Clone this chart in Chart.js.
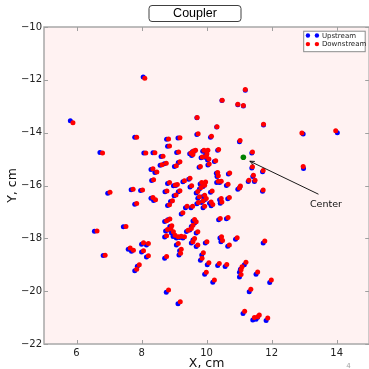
<!DOCTYPE html>
<html><head><meta charset="utf-8">
<script src="https://cdn.jsdelivr.net/npm/chart.js@4/dist/chart.umd.min.js"></script>
<style>html,body{margin:0;padding:0;overflow:hidden;background:#fff;width:369px;height:369px}canvas{display:block}</style>
</head><body>
<canvas id="c" width="372" height="369" style="width:372px;height:369px"></canvas>
<script>
const seriesLabels = ['Upstream', 'Downstream'];
const chartTitle = 'Coupler';
const xTitle = 'X, cm';
const yTitle = 'Y, cm';
const xTicks = [6, 8, 10, 12, 14];
const yTicks = [-22, -20, -18, -16, -14, -12, -10];

const upstreamX = [
5.81,8.05,6.72,6.96,6.55,6.82,7.44,7.59,7.69,7.79,
7.68,7.97,7.79,8.00,8.15,8.00,8.15,7.87,7.79,8.07,
8.35,8.60,8.29,8.41,8.57,8.70,8.31,8.29,8.37,8.76,
9.12,8.77,9.12,9.70,8.80,9.08,9.48,9.56,9.62,9.54,
9.13,9.01,9.77,9.45,9.27,8.80,8.98,9.05,8.72,9.13,
9.49,9.00,9.68,8.89,8.80,9.35,9.52,9.70,9.22,8.71,
8.81,8.87,8.84,8.74,8.92,8.71,8.97,9.07,9.17,9.27,
9.48,9.38,9.53,9.63,9.58,9.58,9.53,9.68,9.07,9.17,
9.15,8.71,9.70,11.19,10.47,10.96,11.13,10.31,11.75,12.97,
14.02,10.12,11.01,10.34,11.39,9.88,10.00,9.97,9.83,9.95,
10.03,10.24,10.04,12.98,11.39,10.30,10.32,10.67,11.72,11.42,
11.28,11.47,9.80,9.92,9.89,9.78,10.31,10.40,10.61,10.96,
11.02,11.72,10.12,9.89,9.94,9.84,10.09,10.14,10.40,10.42,
10.65,9.73,9.89,10.37,10.61,9.68,9.96,10.41,10.44,10.65,
10.89,11.74,9.85,9.81,10.02,10.34,10.57,11.16,11.04,11.01,
11.01,11.52,9.94,10.19,11.94,11.31,11.12,11.42,11.52,11.57,11.83];
const upstreamY = [
-13.55,-11.89,-14.75,-16.29,-17.73,-18.65,-17.56,-18.41,-18.49,-14.17,
-16.16,-16.19,-16.71,-18.22,-18.25,-18.52,-18.71,-19.06,-19.23,-14.77,
-14.76,-14.90,-15.39,-15.51,-15.23,-15.18,-15.81,-16.48,-16.57,-20.04,
-20.48,-14.25,-14.20,-14.07,-14.51,-14.75,-14.80,-14.72,-14.70,-14.86,
-15.13,-15.28,-15.31,-15.76,-15.86,-15.92,-16.01,-16.00,-16.24,-16.24,
-16.06,-16.39,-16.28,-16.61,-16.76,-16.84,-16.84,-16.69,-17.08,-17.36,
-17.30,-17.55,-17.68,-17.72,-17.80,-17.95,-17.93,-17.99,-17.97,-17.99,
-17.68,-17.74,-17.55,-17.42,-17.34,-18.06,-18.18,-18.31,-18.25,-18.47,
-18.63,-18.75,-13.44,-12.39,-12.78,-12.94,-12.99,-13.79,-13.71,-14.05,
-14.00,-14.17,-14.34,-14.67,-14.77,-14.70,-14.70,-14.84,-14.95,-14.93,
-15.03,-15.09,-15.22,-15.36,-15.34,-15.54,-15.66,-15.56,-15.48,-15.66,
-15.85,-15.85,-15.94,-15.92,-16.04,-16.13,-15.89,-15.89,-16.00,-16.14,
-16.07,-16.22,-16.26,-16.42,-16.54,-16.64,-16.67,-16.77,-16.54,-16.67,
-16.50,-16.48,-16.84,-17.30,-17.26,-17.80,-18.18,-17.99,-18.13,-18.30,
-18.03,-18.18,-18.63,-18.83,-19.00,-19.03,-19.07,-19.00,-19.17,-19.28,
-19.46,-19.36,-19.36,-19.66,-19.67,-20.02,-20.85,-21.09,-21.06,-20.99,-21.11];
const downstreamX = [
5.89,8.10,6.80,7.03,6.63,6.88,7.52,7.65,7.75,7.85,
7.74,8.03,7.85,8.06,8.21,8.06,8.21,7.93,7.85,8.13,
8.41,8.66,8.35,8.47,8.63,8.76,8.37,8.35,8.43,8.83,
9.19,8.83,9.18,9.74,8.86,9.14,9.52,9.60,9.66,9.58,
9.18,9.07,9.81,9.49,9.32,8.86,9.04,9.10,8.78,9.18,
9.54,9.06,9.73,8.95,8.86,9.40,9.57,9.75,9.27,8.77,
8.87,8.93,8.90,8.80,8.98,8.77,9.03,9.13,9.22,9.32,
9.53,9.43,9.58,9.68,9.63,9.63,9.58,9.73,9.13,9.22,
9.20,8.77,9.71,11.19,10.48,10.96,11.13,10.32,11.75,12.93,
13.97,10.15,11.03,10.37,11.41,9.92,10.04,10.01,9.87,9.99,
10.07,10.28,10.08,12.97,11.41,10.34,10.36,10.71,11.74,11.44,
11.30,11.49,9.85,9.97,9.94,9.83,10.36,10.45,10.66,11.01,
11.04,11.74,10.17,9.94,9.99,9.89,10.14,10.19,10.45,10.47,
10.70,9.78,9.94,10.42,10.66,9.73,10.01,10.46,10.49,10.70,
10.94,11.79,9.90,9.86,10.07,10.39,10.62,11.21,11.09,11.06,
11.06,11.57,9.99,10.24,11.99,11.36,11.17,11.47,11.57,11.62,11.88];
const downstreamY = [
-13.62,-11.94,-14.77,-16.26,-17.72,-18.64,-17.55,-18.37,-18.45,-14.17,
-16.14,-16.17,-16.68,-18.17,-18.20,-18.47,-18.66,-19.00,-19.17,-14.77,
-14.76,-14.89,-15.37,-15.49,-15.21,-15.16,-15.78,-16.45,-16.54,-19.96,
-20.40,-14.24,-14.19,-14.04,-14.50,-14.73,-14.77,-14.69,-14.67,-14.83,
-15.10,-15.25,-15.28,-15.73,-15.82,-15.89,-15.98,-15.96,-16.21,-16.20,
-16.01,-16.36,-16.23,-16.58,-16.73,-16.79,-16.79,-16.64,-17.03,-17.33,
-17.27,-17.52,-17.63,-17.67,-17.75,-17.90,-17.88,-17.94,-17.92,-17.94,
-17.63,-17.69,-17.50,-17.37,-17.29,-18.01,-18.13,-18.25,-18.20,-18.41,
-18.56,-18.69,-13.43,-12.37,-12.77,-12.92,-12.97,-13.78,-13.68,-14.01,
-13.93,-14.14,-14.30,-14.64,-14.73,-14.67,-14.67,-14.81,-14.92,-14.90,
-15.00,-15.06,-15.19,-15.28,-15.29,-15.51,-15.63,-15.53,-15.43,-15.61,
-15.80,-15.80,-15.89,-15.87,-15.99,-16.08,-15.84,-15.84,-15.95,-16.09,
-16.02,-16.17,-16.21,-16.37,-16.49,-16.59,-16.62,-16.72,-16.49,-16.62,
-16.45,-16.43,-16.79,-17.25,-17.21,-17.75,-18.13,-17.94,-18.08,-18.25,
-17.98,-18.10,-18.55,-18.75,-18.92,-18.95,-18.99,-18.91,-19.08,-19.19,
-19.37,-19.27,-19.28,-19.58,-19.58,-19.93,-20.76,-21.00,-20.97,-20.90,-21.02];
const centerX = [11.13];
const centerY = [-14.93];
const centerLabel = 'Center';
const centerLabelPos = [13.67, -16.73];
const arrowTail = [13.44, -16.33];
const arrowHead = [11.33, -15.08];
const pageNumber = '4';

const FONT = '"DejaVu Sans", sans-serif';
const toPts = (xs, ys) => xs.map((x, i) => ({x: x, y: ys[i]}));

const decor = {
  id: 'decor',
  beforeDraw(chart) {
    const {ctx, chartArea: a} = chart;
    ctx.save();
    ctx.fillStyle = '#fff2f2';
    ctx.fillRect(a.left, a.top, a.right - a.left, a.bottom - a.top);
    ctx.restore();
  },
  afterDraw(chart) {
    const {ctx, chartArea: a, scales} = chart;
    const xs = scales.x, ys = scales.y;
    ctx.save();
    ctx.strokeStyle = '#a8a8a8';
    ctx.lineWidth = 1.5;
    ctx.strokeRect(a.left, a.top, a.right - a.left, a.bottom - a.top);
    ctx.lineWidth = 1;
    ctx.strokeStyle = '#a0a0a0';
    ctx.beginPath();
    xTicks.forEach(v => {
      const p = Math.round(xs.getPixelForValue(v)) + 0.5;
      ctx.moveTo(p, a.bottom); ctx.lineTo(p, a.bottom - 4);
      ctx.moveTo(p, a.top); ctx.lineTo(p, a.top + 4);
    });
    yTicks.forEach(v => {
      const p = Math.round(ys.getPixelForValue(v)) + 0.5;
      ctx.moveTo(a.left, p); ctx.lineTo(a.left + 4, p);
      ctx.moveTo(a.right, p); ctx.lineTo(a.right - 4, p);
    });
    ctx.stroke();

    const bx = 149, by = 5.5, bw = 92, bh = 16, r = 3;
    ctx.beginPath();
    ctx.moveTo(bx + r, by);
    ctx.lineTo(bx + bw - r, by); ctx.arcTo(bx + bw, by, bx + bw, by + r, r);
    ctx.lineTo(bx + bw, by + bh - r); ctx.arcTo(bx + bw, by + bh, bx + bw - r, by + bh, r);
    ctx.lineTo(bx + r, by + bh); ctx.arcTo(bx, by + bh, bx, by + bh - r, r);
    ctx.lineTo(bx, by + r); ctx.arcTo(bx, by, bx + r, by, r);
    ctx.closePath();
    ctx.fillStyle = '#fff'; ctx.fill();
    ctx.strokeStyle = '#404040'; ctx.lineWidth = 1; ctx.stroke();
    ctx.fillStyle = '#000';
    ctx.font = '12.5px "Liberation Sans", Arial, sans-serif';
    ctx.textAlign = 'center'; ctx.textBaseline = 'middle';
    ctx.fillText(chartTitle, bx + bw / 2, by + bh / 2 + 0.5);

    const lw = 62.5, lh = 21.5;
    const lx = a.right - 3.5 - lw, ly = a.top + 3.7;
    ctx.fillStyle = '#fff';
    ctx.fillRect(lx, ly, lw, lh);
    ctx.strokeStyle = '#8a8a8a'; ctx.lineWidth = 1;
    ctx.strokeRect(lx + 0.5, ly + 0.5, lw - 1, lh - 1);
    ctx.font = '7px ' + FONT;
    ctx.textAlign = 'left'; ctx.textBaseline = 'middle';
    [0, 1].forEach(i => {
      const ds = chart.data.datasets[i];
      const yy = ly + 4.8 + i * 8.6;
      ctx.fillStyle = ds.backgroundColor;
      [lx + 4.7, lx + 13.7].forEach(mx => {
        ctx.beginPath(); ctx.arc(mx, yy, 2.2, 0, Math.PI * 2); ctx.fill();
      });
      ctx.fillStyle = '#222';
      ctx.fillText(ds.label, lx + 18.7, yy + 0.3);
    });

    const tx = xs.getPixelForValue(arrowTail[0]), ty = ys.getPixelForValue(arrowTail[1]);
    const hx = xs.getPixelForValue(arrowHead[0]), hy = ys.getPixelForValue(arrowHead[1]);
    ctx.strokeStyle = '#000'; ctx.lineWidth = 0.9;
    ctx.beginPath(); ctx.moveTo(tx, ty); ctx.lineTo(hx, hy); ctx.stroke();
    const ang = Math.atan2(ty - hy, tx - hx);
    ctx.beginPath();
    ctx.moveTo(hx + 5 * Math.cos(ang + 0.4), hy + 5 * Math.sin(ang + 0.4));
    ctx.lineTo(hx, hy);
    ctx.lineTo(hx + 5 * Math.cos(ang - 0.4), hy + 5 * Math.sin(ang - 0.4));
    ctx.stroke();
    ctx.fillStyle = '#111';
    ctx.font = '9.5px ' + FONT;
    ctx.textAlign = 'center'; ctx.textBaseline = 'middle';
    ctx.fillText(centerLabel, xs.getPixelForValue(centerLabelPos[0]), ys.getPixelForValue(centerLabelPos[1]));

    ctx.fillStyle = '#a0a0a0';
    ctx.font = '7px ' + FONT;
    ctx.fillText(pageNumber, 348.5, 366.5);
    ctx.restore();
  }
};

new Chart(document.getElementById('c'), {
  type: 'scatter',
  data: {
    datasets: [
      {label: seriesLabels[0], data: toPts(upstreamX, upstreamY), backgroundColor: '#0000ff', borderWidth: 0, pointRadius: 2.5, pointHoverRadius: 2.5, order: 2},
      {label: seriesLabels[1], data: toPts(downstreamX, downstreamY), backgroundColor: '#ff0000', borderWidth: 0, pointRadius: 2.5, pointHoverRadius: 2.5, order: 1},
      {label: centerLabel, data: toPts(centerX, centerY), backgroundColor: '#008000', borderWidth: 0, pointRadius: 2.8, pointHoverRadius: 2.8, order: 0}
    ]
  },
  options: {
    responsive: false,
    animation: false,
    devicePixelRatio: 1,
    events: [],
    layout: {padding: {left: 0, top: 27, right: 1.7, bottom: 0}},
    plugins: {legend: {display: false}, tooltip: {enabled: false}, title: {display: false}},
    scales: {
      x: {
        type: 'linear', min: 5, max: 15,
        grid: {display: false, drawTicks: false},
        border: {display: false},
        afterBuildTicks: s => { s.ticks = xTicks.map(v => ({value: v})); },
        afterFit: s => { s.height = 25; },
        ticks: {padding: 3, color: '#222', font: {family: FONT, size: 10}, callback: v => String(v)},
        title: {display: true, text: xTitle, color: '#111', font: {family: FONT, size: 12.5}, padding: {top: 0, bottom: -2}}
      },
      y: {
        type: 'linear', min: -22, max: -10,
        grid: {display: false, drawTicks: false},
        border: {display: false},
        afterBuildTicks: s => { s.ticks = yTicks.map(v => ({value: v})); },
        afterFit: s => { s.width = 44; },
        ticks: {padding: 2, color: '#222', font: {family: FONT, size: 10}, callback: v => (v < 0 ? '\u2212' + Math.abs(v) : String(v))},
        title: {display: true, text: yTitle, color: '#111', font: {family: FONT, size: 12.5}, padding: {top: 5, bottom: 0}}
      }
    }
  },
  plugins: [decor]
});
</script>
</body></html>
